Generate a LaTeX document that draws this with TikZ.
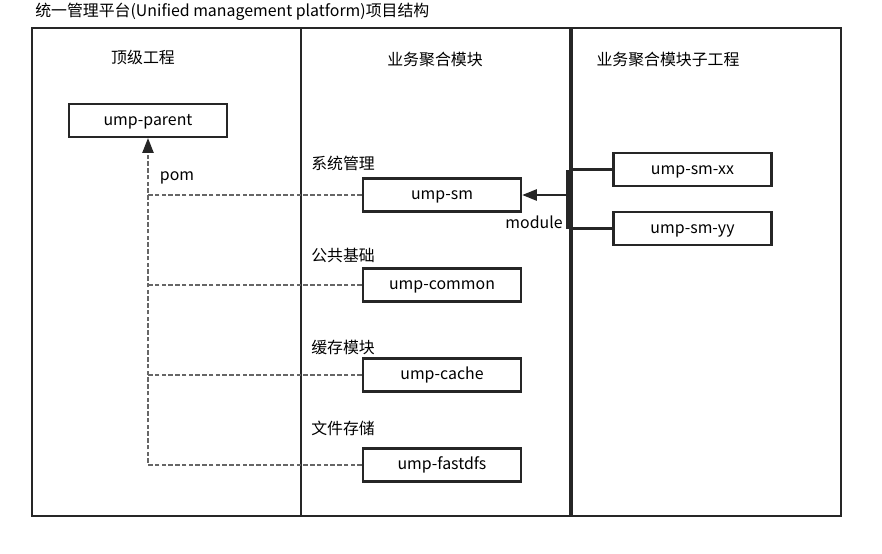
\documentclass[tikz,border=0pt]{standalone}
\usepackage{fontspec}
\setmainfont{Noto Sans CJK SC}
\usetikzlibrary{arrows.meta,shapes,positioning}

\begin{document}
\begin{tikzpicture}[x=0.025cm,y=-0.025cm,node distance=2.25cm,
    >={Triangle[length=10.5pt,width=8pt,black!85]},font=\fontsize{11.3}{13}\selectfont]
  \tikzstyle{module}=[rectangle,draw=black!85,line width=1.7pt,fill=white,
                      minimum width=3.95cm,minimum height=0.82cm,inner sep=0pt,
                      text height=0.8em,text depth=0.1em]
  \tikzstyle{lane}=[draw=black!85,line width=1.5pt]
  \tikzstyle{pom}=[draw=black!60,line width=1pt,dash pattern=on 3.2pt off 1.6pt]
  \tikzstyle{caption}=[anchor=west,inner sep=0pt]
  \useasboundingbox (0,0) rectangle (882,553);

  % title
  \node [caption] (title) at (35,12) {统一管理平台(Unified management platform)项目结构};

  % lanes
  \draw [lane] (32,28) rectangle (301,516);
  \draw [lane] (301,28) rectangle (571,516);
  \draw [lane] (571,28) rectangle (841,516);
  \draw [lane,line width=2.4pt] (571,28) -- (571,516);
  \node (top) at (143,57) {顶级工程};
  \node (agg) at (435,60) {业务聚合模块};
  \node (sub) at (668,60) {业务聚合模块子工程};

  % modules
  \node [module] (parent) at (148,120.5) {ump-parent};
  \node [module] (sm) at (442,195) {ump-sm};
  \node [module] (common) [below of=sm] {ump-common};
  \node [module] (cache) [below of=common] {ump-cache};
  \node [module] (fastdfs) [below of=cache] {ump-fastdfs};
  \node [module] (xx) at (692.5,169.5) {ump-sm-xx};
  \node [module,node distance=1.475cm] (yy) [below of=xx] {ump-sm-yy};

  \node [caption] (smcap) at (311,163) {系统管理};
  \node [caption] (commoncap) at (311,255) {公共基础};
  \node [caption] (cachecap) at (311,347) {缓存模块};
  \node [caption] (fastdfscap) at (311,428) {文件存储};

  % pom
  \draw [pom,->] (fastdfs.west) -- (parent.south |- fastdfs.west) -- (parent.south);
  \draw [pom] (sm.west) -- (parent.south |- sm.west);
  \draw [pom] (common.west) -- (parent.south |- common.west);
  \draw [pom] (cache.west) -- (parent.south |- cache.west);
  \node (pomlabel) at (177,178) {pom};

  % module
  \coordinate (bus) at (568.5,195);
  \draw [line width=3.2pt,black!85] (bus |- xx.west) -- (bus |- yy.west);
  \draw [lane] (xx.west) -- (bus |- xx.west);
  \draw [lane] (yy.west) -- (bus |- yy.west);
  \draw [lane,->] (bus) -- (sm.east);
  \node (modlabel) at (534,222) {module};
\end{tikzpicture}
\end{document}
